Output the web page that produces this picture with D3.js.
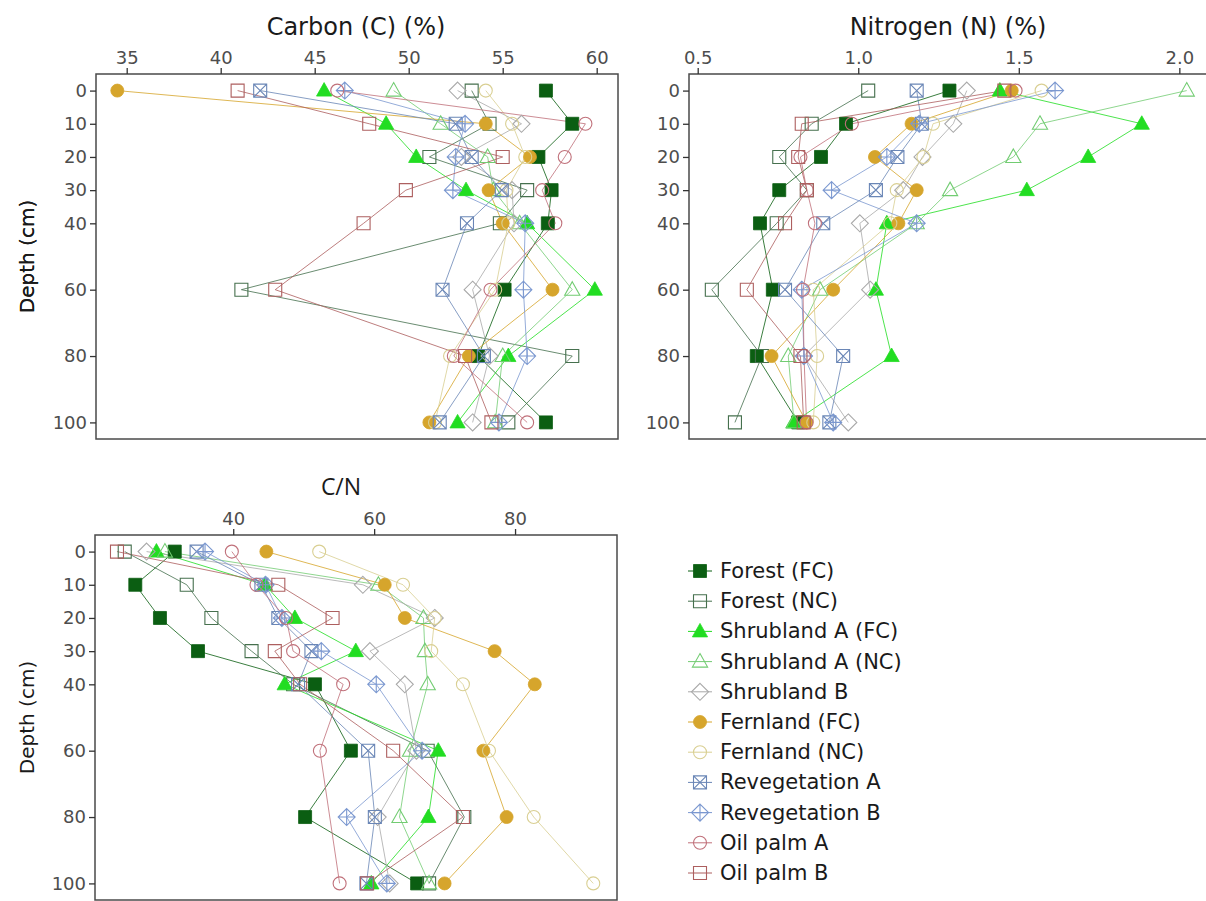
<!DOCTYPE html>
<html>
<head>
<meta charset="utf-8">
<script src="https://cdn.jsdelivr.net/npm/d3@7"></script>
<style>
  body { margin: 0; background: #fff; }
  svg { display: block; font-family: "DejaVu Sans", sans-serif; }
</style>
</head>
<body>
<svg id="chart" width="1206" height="901"></svg>
<script>
const depths = [0, 10, 20, 30, 40, 60, 80, 100];
const depthTicks = [0, 10, 20, 30, 40, 60, 80, 100];

const seriesNames = [
  "Forest (FC)", "Forest (NC)", "Shrubland A (FC)", "Shrubland A (NC)", "Shrubland B",
  "Fernland (FC)", "Fernland (NC)", "Revegetation A", "Revegetation B", "Oil palm A", "Oil palm B"
];
const seriesColors = [
  "#0b5e12", "#46704e", "#22dd22", "#72cc72", "#a9a9a9",
  "#d6a52c", "#d9cf92", "#6a86b6", "#7b98d0", "#c0707a", "#ad5f5f"
];
const seriesShapes = [
  "square", "square", "triangle", "triangle", "diamond",
  "circle", "circle", "squareX", "diamondPlus", "circle", "square"
];
const seriesFilled = [true, false, true, false, false, true, false, false, false, false, false];

// one row per series, one value per depth
const carbonValues = [
  [57.3, 58.7, 56.9, 57.6, 57.4, 55.1, 53.7, 57.3],
  [53.35, 54.3, 51.1, 56.3, 54.85, 41.1, 58.7, 55.3],
  [45.5, 48.8, 50.4, 53.05, 56.3, 59.9, 55.3, 52.6],
  [49.2, 51.7, 54.2, 54.5, 55.9, 58.7, 55.0, 54.6],
  [52.6, 56.0, 52.8, 55.5, 55.6, 53.4, 54.3, 53.4],
  [34.5, 54.1, 56.45, 54.25, 55.0, 57.65, 53.2, 51.1],
  [54.1, 55.5, 56.2, 55.2, 55.3, 54.6, 52.2, 51.4],
  [42.1, 52.5, 53.35, 54.95, 53.1, 51.8, 54.0, 51.65],
  [46.6, 53.0, 52.5, 52.35, 56.2, 56.1, 56.3, 54.8],
  [46.2, 59.4, 58.3, 57.1, 57.8, 54.35, 52.4, 56.3],
  [40.9, 47.9, 55.0, 49.85, 47.6, 42.9, 53.0, 54.4]
];
const nitrogenValues = [
  [1.284, 0.962, 0.884, 0.754, 0.694, 0.734, 0.684, 0.813],
  [1.031, 0.855, 0.754, 0.84, 0.746, 0.544, 0.70, 0.616],
  [1.441, 1.883, 1.716, 1.525, 1.089, 1.055, 1.104, 0.798],
  [2.023, 1.566, 1.483, 1.286, 1.182, 0.881, 0.782, 0.80],
  [1.338, 1.296, 1.20, 1.14, 1.005, 1.037, 0.83, 0.969],
  [1.478, 1.166, 1.052, 1.182, 1.125, 0.922, 0.730, 0.839],
  [1.571, 1.233, 1.203, 1.12, 1.10, 0.86, 0.872, 0.86],
  [1.182, 1.198, 1.122, 1.055, 0.891, 0.772, 0.953, 0.91],
  [1.613, 1.19, 1.089, 0.917, 1.182, 0.824, 0.831, 0.922],
  [1.49, 0.98, 0.82, 0.84, 0.865, 0.828, 0.831, 0.839],
  [1.455, 0.824, 0.813, 0.84, 0.772, 0.653, 0.82, 0.83]
];
const cnValues = [
  [31.7, 26.1, 29.6, 35.0, 51.6, 56.7, 50.2, 66.1],
  [24.6, 33.4, 36.9, 42.6, 48.5, 67.6, 72.8, 67.8],
  [29.1, 44.5, 48.75, 57.4, 47.3, 69.1, 67.7, 59.6],
  [30.3, 60.6, 67.0, 67.2, 67.6, 65.1, 63.6, 67.8],
  [27.7, 58.4, 68.6, 59.4, 64.35, 66.0, 60.5, 62.2],
  [44.7, 61.5, 64.35, 77.1, 82.8, 75.5, 78.8, 70.0],
  [52.2, 64.1, 68.6, 68.1, 72.6, 76.3, 82.65, 91.1],
  [34.8, 44.0, 46.4, 51.1, 49.2, 59.15, 60.1, 58.9],
  [36.0, 44.6, 46.9, 52.5, 60.3, 66.8, 56.1, 61.8],
  [39.8, 43.3, 47.5, 48.5, 55.6, 52.3, null, 55.1],
  [23.5, 46.4, 54.1, 45.9, 49.5, 62.7, 72.6, 59.0]
];

const carbonTicks = [35, 40, 45, 50, 55, 60];
const nitrogenTicks = [0.5, 1.0, 1.5, 2.0];
const cnTicks = [40, 60, 80];

const svg = d3.select("#chart");

// marker shapes as d3.symbol types
const shapeTypes = {
  square: { draw(p) { p.rect(-6.5, -6.5, 13, 13); } },
  circle: { draw(p) { p.moveTo(6.5, 0); p.arc(0, 0, 6.5, 0, 2 * Math.PI); } },
  triangle: { draw(p) { p.moveTo(0, -8); p.lineTo(7.6, 5.5); p.lineTo(-7.6, 5.5); p.closePath(); } },
  diamond: { draw(p) { p.moveTo(0, -8.5); p.lineTo(8.5, 0); p.lineTo(0, 8.5); p.lineTo(-8.5, 0); p.closePath(); } },
  squareX: { draw(p) {
    p.rect(-6.5, -6.5, 13, 13);
    p.moveTo(-6.5, -6.5); p.lineTo(6.5, 6.5);
    p.moveTo(6.5, -6.5); p.lineTo(-6.5, 6.5);
  } },
  diamondPlus: { draw(p) {
    p.moveTo(0, -8.5); p.lineTo(8.5, 0); p.lineTo(0, 8.5); p.lineTo(-8.5, 0); p.closePath();
    p.moveTo(0, -8.5); p.lineTo(0, 8.5);
    p.moveTo(-8.5, 0); p.lineTo(8.5, 0);
  } }
};
const symbolFor = i => d3.symbol().type(shapeTypes[seriesShapes[i]])();

function styleMarker(sel, i) {
  sel.attr("d", symbolFor(i))
    .attr("fill", seriesFilled[i] ? seriesColors[i] : "none")
    .attr("stroke", seriesColors[i])
    .attr("stroke-width", seriesFilled[i] ? 0.8 : 1.1);
}

function drawPanel(cfg) {
  const { values, xDomain, left, right, top, bottom, ticks, fmt, title, titleX, titleY, titleFont } = cfg;
  const x = d3.scaleLinear().domain(xDomain).range([left, right]);
  const y = d3.scaleLinear().domain([-5, 105]).range([top, bottom]);
  const g = svg.append("g");

  const clipId = "clip" + Math.round(left) + "_" + Math.round(top);
  svg.append("clipPath").attr("id", clipId)
    .append("rect").attr("x", left).attr("y", top).attr("width", right - left).attr("height", bottom - top);

  const plot = g.append("g").attr("clip-path", `url(#${clipId})`);

  const line = d3.line().x(d => x(d.v)).y(d => y(d.depth));

  values.forEach((row, i) => {
    const pts = depths.map((depth, k) => ({ depth, v: row[k] })).filter(d => d.v != null);
    plot.append("path")
      .datum(pts)
      .attr("d", line)
      .attr("fill", "none")
      .attr("stroke", seriesColors[i])
      .attr("stroke-width", 0.95)
      .attr("stroke-opacity", 0.85);
  });

  values.forEach((row, i) => {
    const pts = depths.map((depth, k) => ({ depth, v: row[k] })).filter(d => d.v != null);
    plot.append("g").selectAll("path")
      .data(pts)
      .join("path")
      .attr("transform", d => `translate(${x(d.v)},${y(d.depth)})`)
      .call(styleMarker, i);
  });

  // panel border
  g.append("rect")
    .attr("x", left).attr("y", top)
    .attr("width", right - left).attr("height", bottom - top)
    .attr("fill", "none").attr("stroke", "#4a4a4a").attr("stroke-width", 1.5);

  const xAxis = g.append("g")
    .attr("transform", `translate(0,${top})`)
    .call(d3.axisTop(x).tickValues(ticks).tickFormat(fmt).tickSize(6).tickPadding(4));
  const yAxis = g.append("g")
    .attr("transform", `translate(${left},0)`)
    .call(d3.axisLeft(y).tickValues(depthTicks).tickSize(6).tickPadding(3));

  [xAxis, yAxis].forEach(ax => {
    ax.select(".domain").remove();
    ax.selectAll("line").attr("stroke", "#333").attr("stroke-width", 1.3);
    ax.selectAll("text").attr("fill", "#4d4d4d").style("font-size", "18px")
      .style("font-family", "'DejaVu Sans', sans-serif");
  });

  svg.append("text")
    .attr("x", titleX).attr("y", titleY)
    .attr("text-anchor", "middle")
    .style("font-size", titleFont.size)
    .style("font-family", titleFont.family)
    .attr("fill", "#1a1a1a")
    .text(title);

  svg.append("text")
    .attr("transform", `translate(28,${(top + bottom) / 2}) rotate(-90)`)
    .attr("text-anchor", "middle")
    .attr("dominant-baseline", "middle")
    .style("font-size", "20px")
    .attr("fill", "#1a1a1a")
    .text("Depth (cm)");
}

drawPanel({
  values: carbonValues, xDomain: [33.367, 61.133], left: 96, right: 618, top: 74, bottom: 439,
  ticks: carbonTicks, fmt: d3.format("d"), title: "Carbon (C) (%)", titleX: 356, titleY: 35,
  titleFont: { size: "24px", family: "'DejaVu Sans', sans-serif" }
});
drawPanel({
  values: nitrogenValues, xDomain: [0.4729, 2.0986], left: 689, right: 1211, top: 74, bottom: 439,
  ticks: nitrogenTicks, fmt: d3.format(".1f"), title: "Nitrogen (N) (%)", titleX: 948, titleY: 35,
  titleFont: { size: "24px", family: "'DejaVu Sans', sans-serif" }
});
drawPanel({
  values: cnValues, xDomain: [20.38, 94.47], left: 95, right: 617, top: 535, bottom: 900,
  ticks: cnTicks, fmt: d3.format("d"), title: "C/N", titleX: 341, titleY: 495,
  titleFont: { size: "23px", family: "'Open Sans', sans-serif" }
});

// legend
const legendY = d3.scalePoint().domain(seriesNames).range([571, 873]);
const legend = svg.append("g");
seriesNames.forEach((name, i) => {
  const row = legend.append("g").attr("transform", `translate(700,${legendY(name)})`);
  row.append("line").attr("x1", -12).attr("x2", 12)
    .attr("stroke", seriesColors[i]).attr("stroke-width", 1);
  row.append("path").call(styleMarker, i);
  row.append("text")
    .attr("x", 20).attr("dominant-baseline", "central")
    .style("font-size", "21px").attr("fill", "#1a1a1a")
    .text(name);
});
</script>
</body>
</html>
